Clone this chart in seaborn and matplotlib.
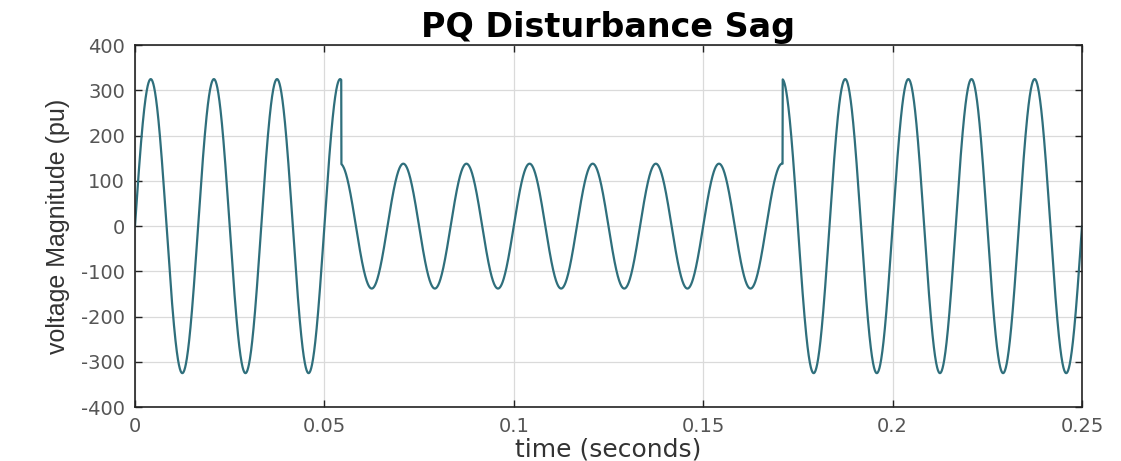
import numpy as np
import pandas as pd
import seaborn as sns
import matplotlib.pyplot as plt

# signal parameters
freq_hz = 60.0
normal_amp = 325.0
sag_amp = 138.0
sag_start = 0.0545
sag_end = 0.1710
t_end = 0.25
n_samples = 5001

x_ticks = [0, 0.05, 0.1, 0.15, 0.2, 0.25]
x_tick_labels = ["0", "0.05", "0.1", "0.15", "0.2", "0.25"]
y_ticks = [-400, -300, -200, -100, 0, 100, 200, 300, 400]

time = np.linspace(0, t_end, n_samples)
amp = np.where((time >= sag_start) & (time < sag_end), sag_amp, normal_amp)
df = pd.DataFrame({"time": time, "voltage": amp * np.sin(2 * np.pi * freq_hz * time)})

sns.set_theme(style="whitegrid")
plt.rcParams["font.family"] = ["DejaVu Sans"]
plt.rcParams["axes.unicode_minus"] = False
plt.rcParams["xtick.direction"] = "in"
plt.rcParams["ytick.direction"] = "in"

fig = plt.figure(figsize=(11.21, 4.61), dpi=100)
ax = fig.add_axes([0.1204, 0.117, 0.8448, 0.785])

sns.lineplot(data=df, x="time", y="voltage", color="#2f6f7c", linewidth=1.6, ax=ax)

ax.set_xlim(0, t_end)
ax.set_ylim(-400, 400)
ax.set_xticks(x_ticks)
ax.set_xticklabels(x_tick_labels)
ax.set_yticks(y_ticks)
ax.tick_params(axis="both", labelsize=14, labelcolor="#555555", length=5, width=1,
               color="#222222", top=True, right=True, bottom=True, left=True, pad=7)
ax.grid(True, color="#dadada", linewidth=0.9)
for sp in ax.spines.values():
    sp.set_color("#222222")
    sp.set_linewidth(1.2)

ax.set_title("PQ Disturbance Sag", fontsize=24, fontweight="bold", color="black", pad=6)
ax.set_xlabel("time (seconds)", fontsize=18, color="#333333", labelpad=1)
ax.set_ylabel("voltage Magnitude (pu)", fontsize=18, color="#333333",
              family=["Liberation Sans", "DejaVu Sans"], labelpad=8)

fig.savefig("out.png", dpi=100)
